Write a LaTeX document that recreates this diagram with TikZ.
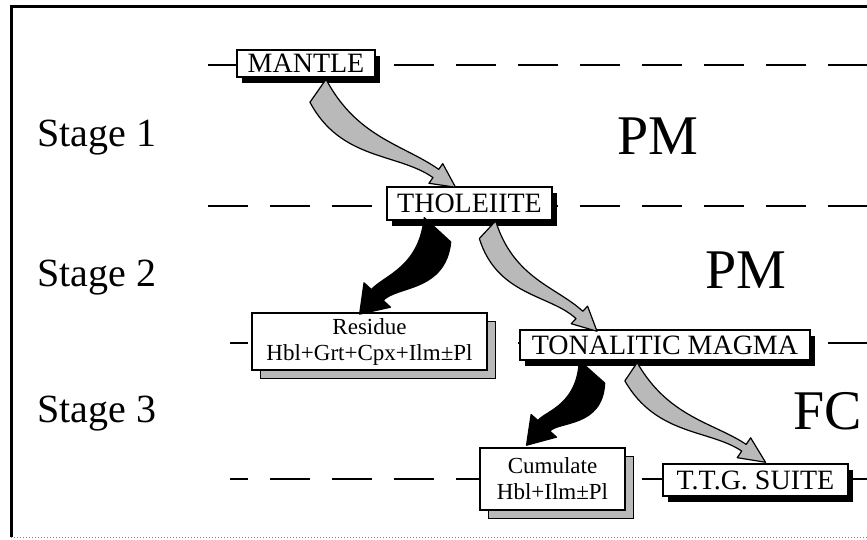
\documentclass[tikz,border=0pt]{standalone}
\usepackage{fontspec}
\setmainfont{Liberation Serif}
\usetikzlibrary{calc,shadows}

% broad curved arrow, drawn from the start point to the tip
\tikzset{
  fat start/.store in=\fatS, fat start=12,
  fat end/.store in=\fatE, fat end=5,
  fat head/.store in=\fatH, fat head=12,
  fat len/.store in=\fatL, fat len=22,
  fat bend/.store in=\fatB, fat bend=0,
  fatarrow/.style={draw=black, line width=1.2pt, line join=round,
    to path={let \p1=(\tikztostart), \p2=(\tikztotarget),
      \n1={atan2(\y2-\y1,\x2-\x1)}, \n2={veclen(\x2-\x1,\y2-\y1)} in
      ([shift={(\p1)},rotate=\n1] 0pt,{\fatS pt})
      .. controls ([shift={(\p1)},rotate=\n1] {0.35*\n2},{(\fatB+\fatS)*1pt})
              and ([shift={(\p1)},rotate=\n1] {0.6*\n2},{\fatE pt})
      .. ([shift={(\p1)},rotate=\n1] {\n2-\fatL pt},{\fatE pt})
      -- ([shift={(\p1)},rotate=\n1] {\n2-\fatL pt},{\fatH pt})
      -- ([shift={(\p1)},rotate=\n1] {\n2},0pt)
      -- ([shift={(\p1)},rotate=\n1] {\n2-\fatL pt},{-\fatH pt})
      -- ([shift={(\p1)},rotate=\n1] {\n2-\fatL pt},{-\fatE pt})
      .. controls ([shift={(\p1)},rotate=\n1] {0.6*\n2},{-\fatE pt})
              and ([shift={(\p1)},rotate=\n1] {0.35*\n2},{(\fatB-\fatS)*1pt})
      .. ([shift={(\p1)},rotate=\n1] 0pt,{-\fatS pt})
      -- cycle}},
}

\begin{document}
\begin{tikzpicture}[x=1pt, y=-1pt,
    box/.style={draw, line width=1.5pt, fill=white, inner sep=0pt,
      font=\fontsize{28}{30}\selectfont,
      drop shadow={shadow xshift=5pt, shadow yshift=-6pt, fill=black, opacity=1}},
    twobox/.style={draw, line width=1.5pt, fill=white, inner sep=0pt, align=center,
      font=\fontsize{23}{26}\selectfont,
      drop shadow={shadow xshift=8pt, shadow yshift=-8pt, fill=gray!55, draw=black, line width=1pt, opacity=1}},
    stage/.style={anchor=base west, inner sep=0pt, font=\fontsize{40}{44}\selectfont},
    process/.style={anchor=base west, inner sep=0pt, font=\fontsize{56}{60}\selectfont},
    level/.style={line width=2.5pt, dash pattern=on 40pt off 22pt},
    grayarrow/.style={fatarrow, fill=gray!55},
    blackarrow/.style={fatarrow, fill=black}]
  \useasboundingbox (0,0) rectangle (867,540);

  % frame
  \coordinate (tl) at (11,7);
  \coordinate (bl) at (11,537);
  \coordinate (tr) at (867,7);
  \coordinate (br) at (867,537);
  \draw[line width=3pt] (bl) -- (tl) -- (tr);
  \draw[gray, dotted, line width=1pt] (bl) -- (br);

  % stage boundaries
  \coordinate (l1a) at (208,65);  \coordinate (l1b) at (867,65);
  \coordinate (l2a) at (208,206); \coordinate (l2b) at (867,206);
  \coordinate (l3a) at (230,343); \coordinate (l3b) at (867,343);
  \coordinate (l4a) at (230,479); \coordinate (l4b) at (867,479);
  \draw[level] (l1a) -- (l1b);
  \draw[level] (l2a) -- (l2b);
  \draw[level, dash phase=22pt] (l3a) -- (l3b);
  \draw[level, dash phase=22pt] (l4a) -- (l4b);

  % rocks
  \node[box, minimum width=138pt, minimum height=27pt] (mantle) at (306,63.5) {MANTLE};
  \node[box, minimum width=165pt, minimum height=33pt] (thol) at (469.5,203.5) {THOLEIITE};
  \node[twobox, minimum width=235pt, minimum height=57pt] (residue) at (369.5,341.5) {Residue\\Hbl+Grt+Cpx+Ilm±Pl};
  \node[box, minimum width=290pt, minimum height=30pt] (tonal) at (665,345) {TONALITIC MAGMA};
  \node[twobox, minimum width=145pt, minimum height=62pt] (cumul) at (552.5,479) {Cumulate\\Hbl+Ilm±Pl};
  \node[box, minimum width=185pt, minimum height=32pt] (ttg) at (755.5,480) {T.T.G. SUITE};

  % arrows
  \draw[grayarrow, fat start=14, fat end=5, fat head=12, fat len=24, fat bend=-30]
    ($(mantle.south)+(12,13)$) to ($(thol.north)+(-14,1)$);
  \draw[blackarrow, fat start=18, fat end=8, fat head=18, fat len=26, fat bend=30]
    ($(thol.south)+(-32,9)$) to ($(residue.north)+(-10,2)$);
  \draw[grayarrow, fat start=12, fat end=5, fat head=12, fat len=24, fat bend=-30]
    ($(thol.south)+(18,9)$) to ($(tonal.north)+(-68,2)$);
  \draw[blackarrow, fat start=17, fat end=8, fat head=17, fat len=26, fat bend=28]
    ($(tonal.south)+(-73,11)$) to ($(cumul.north)+(-26,-2)$);
  \draw[grayarrow, fat start=11, fat end=4, fat head=12, fat len=26, fat bend=-28]
    ($(tonal.south)+(-34,11)$) to ($(ttg.north)+(10,-1)$);

  % labels
  \node[stage] (s1) at (37,147) {Stage 1};
  \node[stage] (s2) at (37,286) {Stage 2};
  \node[stage] (s3) at (37,422) {Stage 3};
  \node[process] (pm1) at (617,155) {PM};
  \node[process] (pm2) at (705,288) {PM};
  \node[process] (fc) at (793,429) {FC};
\end{tikzpicture}
\end{document}
